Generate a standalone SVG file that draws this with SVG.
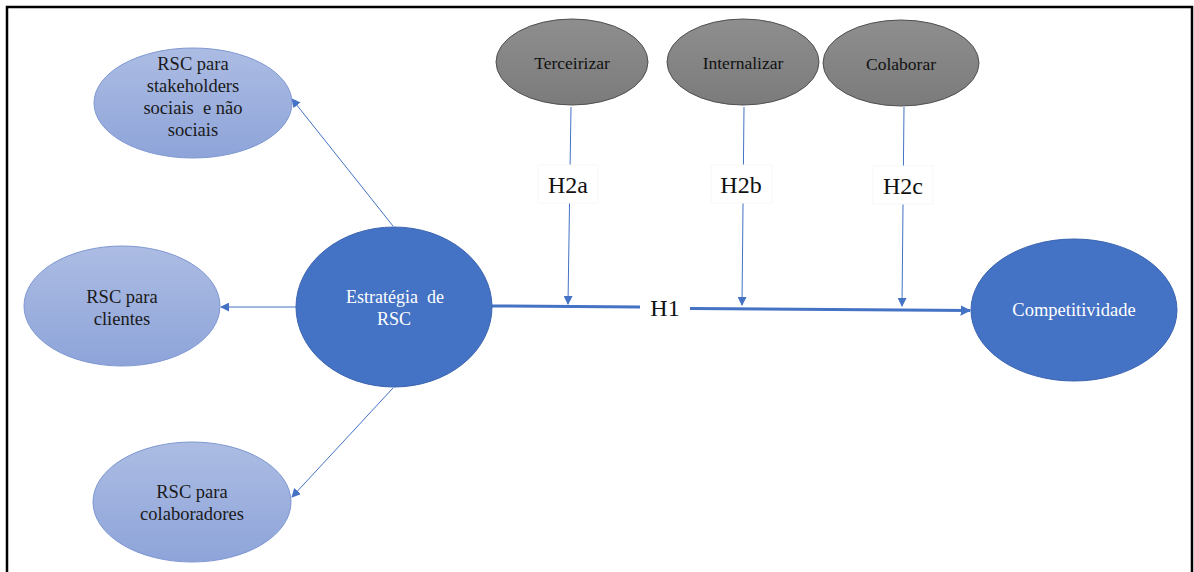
<svg xmlns="http://www.w3.org/2000/svg" width="1194" height="572" viewBox="0 0 1194 572">
  <defs>
    <linearGradient id="lightBlue" x1="0" y1="0" x2="0" y2="1">
      <stop offset="0" stop-color="#acbce3"/>
      <stop offset="1" stop-color="#8ea4d9"/>
    </linearGradient>
    <linearGradient id="grey" x1="0" y1="0" x2="0" y2="1">
      <stop offset="0" stop-color="#8e8e8e"/>
      <stop offset="1" stop-color="#7b7b7b"/>
    </linearGradient>
    <marker id="arrow" viewBox="0 0 10 10" refX="9" refY="5" markerWidth="9" markerHeight="9" markerUnits="userSpaceOnUse" orient="auto">
      <path d="M0,0 L10,5 L0,10 z" fill="#4472c4"/>
    </marker>
    <marker id="arrowBig" viewBox="0 0 10 10" refX="9" refY="5" markerWidth="3.5" markerHeight="3.5" orient="auto">
      <path d="M0,0 L10,5 L0,10 z" fill="#4472c4"/>
    </marker>
  </defs>
  <style>
    .light { fill: url(#lightBlue); stroke: #7f98d3; stroke-width: 1; }
    .dark { fill: #4472c4; stroke: #3b64b0; stroke-width: 1; }
    .grey { fill: url(#grey); stroke: #505050; stroke-width: 1; }
    text { font-family: "Liberation Serif", "Times New Roman", serif; text-anchor: middle; }
    .tb { fill: #1a1a1a; }
    .tw { fill: #ffffff; }
    .tg { fill: #111111; }
    .lbl { fill: #111111; }
    .thin { stroke: #4472c4; stroke-width: 1; fill: none; }
    .thick { stroke: #4472c4; stroke-width: 3; fill: none; }
    .box { fill: #ffffff; stroke: #f7f7f7; stroke-width: 1; }
  </style>

  <rect width="1194" height="572" fill="#ffffff"/>
  <!-- frame, open at the bottom -->
  <path d="M7,575 L7,7 L1192,7 L1192,575" fill="none" stroke="#000000" stroke-width="2.5"/>

  <!-- connectors -->
  <g id="connectors">
    <line class="thin" x1="393" y1="226" x2="292" y2="99" marker-end="url(#arrow)"/>
    <line class="thin" x1="296" y1="307" x2="221" y2="307" marker-end="url(#arrow)"/>
    <line class="thin" x1="393" y1="388" x2="292" y2="497" marker-end="url(#arrow)"/>
    <line class="thick" x1="492" y1="306" x2="640" y2="307"/>
    <line class="thick" x1="690" y1="308.5" x2="970" y2="310.5" marker-end="url(#arrowBig)"/>
    <line class="thin" x1="571" y1="107" x2="568" y2="304" marker-end="url(#arrow)"/>
    <line class="thin" x1="744" y1="107" x2="742" y2="305" marker-end="url(#arrow)"/>
    <line class="thin" x1="904" y1="107" x2="902" y2="306" marker-end="url(#arrow)"/>
    <g id="label-h2a">
      <rect class="box" x="538" y="165" width="60" height="38"/>
      <text class="lbl" x="568" y="193" font-size="24">H2a</text>
    </g>
    <g id="label-h2b">
      <rect class="box" x="711" y="165" width="61" height="38"/>
      <text class="lbl" x="741" y="193" font-size="24">H2b</text>
    </g>
    <g id="label-h2c">
      <rect class="box" x="873" y="166" width="60" height="38"/>
      <text class="lbl" x="903" y="194" font-size="24">H2c</text>
    </g>
    <g id="label-h1">
      <rect x="641" y="292" width="48" height="32" fill="#ffffff"/>
      <text class="lbl" x="665" y="316" font-size="24">H1</text>
    </g>
  </g>

  <g id="rsc-stakeholders">
    <ellipse class="light" cx="193" cy="103" rx="99" ry="55"/>
    <text class="tb" x="193" y="70" font-size="18.5">RSC para</text>
    <text class="tb" x="193" y="92" font-size="18.5">stakeholders</text>
    <text class="tb" x="193" y="114" font-size="18.5">sociais&#160; e não</text>
    <text class="tb" x="193" y="136" font-size="18.5">sociais</text>
  </g>

  <g id="rsc-clientes">
    <ellipse class="light" cx="122" cy="306" rx="98" ry="60"/>
    <text class="tb" x="122" y="303" font-size="18.5">RSC para</text>
    <text class="tb" x="122" y="325" font-size="18.5">clientes</text>
  </g>

  <g id="rsc-colaboradores">
    <ellipse class="light" cx="192" cy="502" rx="99" ry="60"/>
    <text class="tb" x="192" y="498" font-size="18.5">RSC para</text>
    <text class="tb" x="192" y="520" font-size="18.5">colaboradores</text>
  </g>

  <g id="estrategia">
    <ellipse class="dark" cx="394" cy="307" rx="98" ry="80"/>
    <text class="tw" x="395" y="303" font-size="18">Estratégia&#160; de</text>
    <text class="tw" x="394" y="325" font-size="18">RSC</text>
  </g>

  <g id="competitividade">
    <ellipse class="dark" cx="1074" cy="310" rx="103" ry="71"/>
    <text class="tw" x="1074" y="316" font-size="18.5">Competitividade</text>
  </g>

  <g id="terceirizar">
    <ellipse class="grey" cx="572" cy="62" rx="76" ry="43"/>
    <text class="tg" x="572" y="69" font-size="17.5">Terceirizar</text>
  </g>

  <g id="internalizar">
    <ellipse class="grey" cx="743" cy="62" rx="76" ry="43"/>
    <text class="tg" x="743" y="69" font-size="17.5">Internalizar</text>
  </g>

  <g id="colaborar">
    <ellipse class="grey" cx="901" cy="63" rx="78" ry="43"/>
    <text class="tg" x="901" y="70" font-size="17.5">Colaborar</text>
  </g>
</svg>
